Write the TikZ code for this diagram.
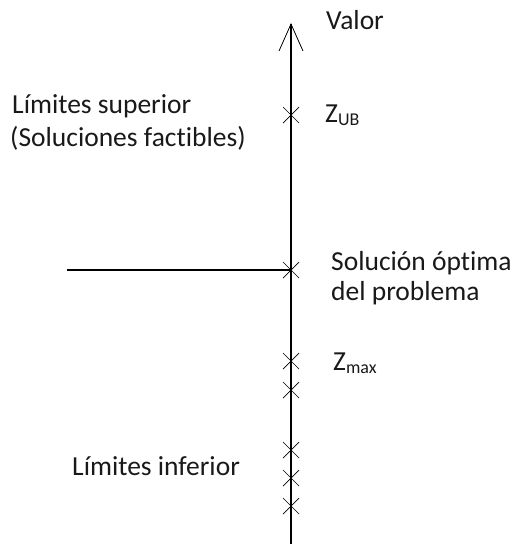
\documentclass[tikz,border=0pt]{standalone}
\usepackage{fontspec}
\setmainfont[Ligatures=NoCommon]{Carlito}
\begin{document}
\begin{tikzpicture}[x=1pt,y=-1pt,
  lbl/.style={anchor=base west,inner sep=0pt,font=\fontsize{27.5}{33}\selectfont,text=black!90},
  axisline/.style={line width=1.1pt,black},
  xmark/.style={line width=0.7pt,black}]
\useasboundingbox (0,0) rectangle (522,544);
% axis
\coordinate (bot) at (291,544);
\coordinate (top) at (291,24);
\coordinate (wl) at (279,51);
\coordinate (wr) at (303,51);
\draw[axisline] (bot) -- (top);
\draw[line width=0.8pt] (wl) -- (top) -- (wr);
% horizontal line
\coordinate (hl) at (67,270);
\coordinate (opt) at (291,270);
\draw[axisline] (hl) -- (opt);
% crosses
\foreach \yy/\nm in {115/ub,270/o,361/m1,390/m2,450/l1,478/l2,506/l3}{
  \coordinate (\nm) at (291,\yy);
  \draw[xmark] ([shift={(-8,-8)}]\nm) -- ([shift={(8,8)}]\nm);
  \draw[xmark] ([shift={(8,-8)}]\nm) -- ([shift={(-8,8)}]\nm);
}
% labels
\node[lbl] (valor) at (326,29) {Valor};
\node[lbl] (zub) at (325,122) {Z\raisebox{-3pt}{\fontsize{18}{18}\selectfont UB}};
\node[lbl] (zmax) at (333,370) {Z\raisebox{-3pt}{\fontsize{18}{18}\selectfont max}};
\node[lbl] (ls1) at (12,113) {Límites superior};
\node[lbl] (ls2) at (10,146) {(Soluciones factibles)};
\node[lbl] (so1) at (331,270) {Solución óptima};
\node[lbl] (so2) at (331,300) {del problema};
\node[lbl] (li) at (72,475) {Límites inferior};
\end{tikzpicture}
\end{document}
